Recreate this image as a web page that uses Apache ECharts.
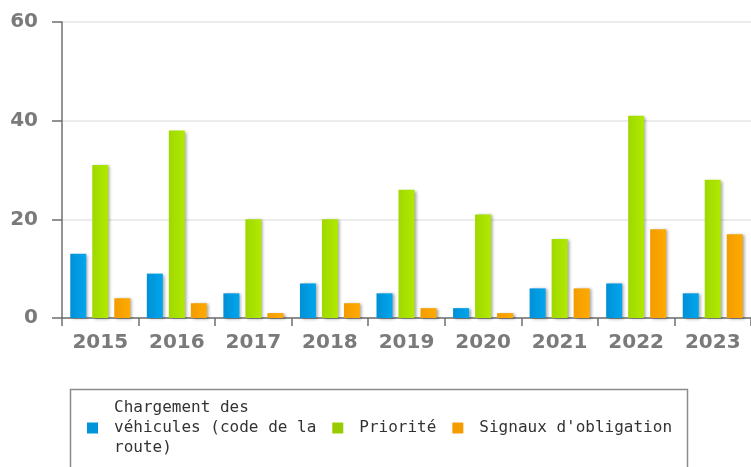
<!DOCTYPE html>
<html>
<head>
<meta charset="utf-8">
<script src="https://cdn.jsdelivr.net/npm/echarts@6/dist/echarts.min.js"></script>
<style>html,body{margin:0;padding:0;background:#fff;}#c{width:751px;height:467px;}</style>
</head>
<body>
<div id="c"></div>
<script>
const categories = ['2015','2016','2017','2018','2019','2020','2021','2022','2023'];
const seriesNames = ['Chargement des\nvéhicules (code de la\nroute)', 'Priorité', "Signaux d'obligation"];
const chargement = [13, 9, 5, 7, 5, 2, 6, 7, 5];
const priorite = [31, 38, 20, 20, 26, 21, 16, 41, 28];
const signaux = [4, 3, 1, 3, 2, 1, 6, 18, 17];
const yTicks = [0, 20, 40, 60];

const chart = echarts.init(document.getElementById('c'), null, {renderer: 'canvas'});

function grad(c1, c2) {
  return new echarts.graphic.LinearGradient(0, 0, 1, 0, [{offset: 0, color: c1}, {offset: 1, color: c2}]);
}
const shadow = {shadowColor: 'rgba(0,0,0,0.35)', shadowBlur: 3, shadowOffsetX: 2, shadowOffsetY: 1};
const barColors = [['#0090d6', '#00a6ee'], ['#a0d800', '#b0ea00'], ['#f29c00', '#ffaa00']];
const legendColors = ['#0095db', '#99cc00', '#f59c00'];
const data = [chargement, priorite, signaux];

chart.setOption({
  animation: false,
  grid: {left: 62, top: 22, width: 691, height: 296, containLabel: false},
  legend: {
    left: 87, top: 398, padding: 0, itemGap: 16,
    itemWidth: 11, itemHeight: 11, icon: 'rect',
    textStyle: {fontFamily: 'DejaVu Sans Mono', fontSize: 16, color: '#333', lineHeight: 20, padding: [0, 0, 0, 11]},
    data: seriesNames.map((n, i) => ({name: n, itemStyle: {color: legendColors[i]}}))
  },
  graphic: [{
    type: 'rect', shape: {x: 70.5, y: 389.5, width: 617, height: 120},
    style: {fill: 'none', stroke: '#8c8c8c', lineWidth: 1.5}, silent: true
  }],
  xAxis: {
    type: 'category', data: categories,
    axisLine: {lineStyle: {color: '#6f6f6f', width: 1.5}},
    axisTick: {show: true, length: 8, lineStyle: {color: '#6f6f6f', width: 1.5}},
    axisLabel: {fontFamily: 'DejaVu Sans', fontWeight: 'bold', fontSize: 20, color: '#7a7a7a', margin: 15}
  },
  yAxis: {
    type: 'value', min: yTicks[0], max: yTicks[yTicks.length - 1], interval: 20,
    axisLine: {show: true, lineStyle: {color: '#6f6f6f', width: 1.5}},
    axisTick: {show: true, length: 10, lineStyle: {color: '#6f6f6f', width: 1.5}},
    axisLabel: {fontFamily: 'DejaVu Sans', fontWeight: 'bold', fontSize: 20, color: '#7a7a7a', margin: 24},
    splitLine: {lineStyle: {color: '#e6e6e6', width: 1.5}}
  },
  series: seriesNames.map((n, i) => ({
    name: n, type: 'bar', data: data[i], barWidth: 16, barGap: '37.5%',
    itemStyle: Object.assign({color: grad(barColors[i][0], barColors[i][1])}, shadow)
  }))
});
</script>
</body>
</html>
